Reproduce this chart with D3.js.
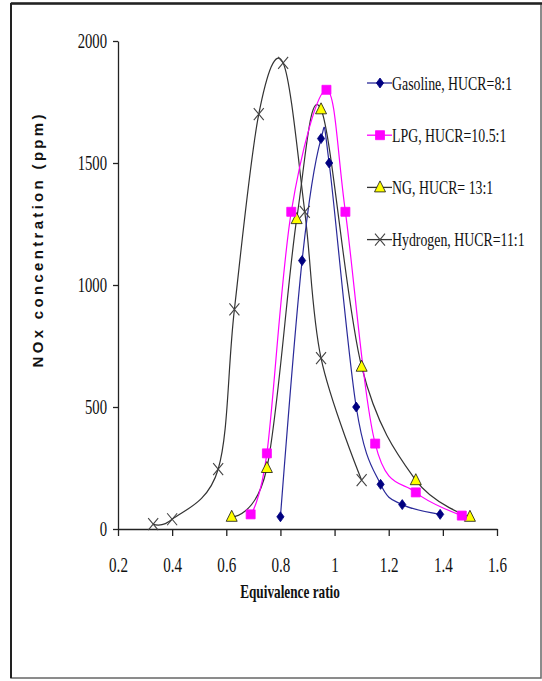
<!DOCTYPE html>
<html>
<head>
<meta charset="utf-8">
<script src="https://cdn.jsdelivr.net/npm/d3@7"></script>
<style>
  body { margin: 0; background: #fff; }
</style>
</head>
<body>
<div id="chart"></div>
<script>
// Equivalence ratio / NOx (ppm) for each fuel
const gasolineX = [0.80, 0.88, 0.95, 0.98, 1.08, 1.17, 1.25, 1.39];
const gasolineY = [50, 1100, 1600, 1500, 500, 183, 100, 60];
const lpgX = [0.69, 0.75, 0.84, 0.97, 1.04, 1.15, 1.30, 1.47];
const lpgY = [60, 310, 1300, 1800, 1300, 350, 150, 55];
const ngX = [0.62, 0.75, 0.86, 0.95, 1.10, 1.30, 1.50];
const ngY = [50, 250, 1270, 1720, 665, 200, 50];
const h2X = [0.33, 0.40, 0.57, 0.63, 0.72, 0.81, 0.89, 0.95, 1.10];
const h2Y = [20, 40, 245, 900, 1700, 1910, 1300, 700, 200];

const seriesNames = ["Gasoline, HUCR=8:1", "LPG, HUCR=10.5:1", "NG, HUCR= 13:1", "Hydrogen, HUCR=11:1"];
const xTicks = [0.2, 0.4, 0.6, 0.8, 1, 1.2, 1.4, 1.6];
const yTicks = [0, 500, 1000, 1500, 2000];

const width = 542, height = 681;
const margin = {top: 41, bottom: 152, left: 118, right: 45};
const serif = "'Liberation Serif', 'Times New Roman', serif";

const svg = d3.select("#chart")
  .append("svg")
  .attr("width", width)
  .attr("height", height);

// outer frame
svg.append("rect")
  .attr("x", 11).attr("y", 3.5)
  .attr("width", 530).attr("height", 674.5)
  .attr("fill", "#fff")
  .attr("stroke", "#666")
  .attr("stroke-width", 1.5);
svg.append("line")
  .attr("x1", 11).attr("x2", 542).attr("y1", 3.5).attr("y2", 3.5)
  .attr("stroke", "#222").attr("stroke-width", 2.5);
svg.append("line")
  .attr("x1", 11).attr("x2", 11).attr("y1", 3).attr("y2", 678)
  .attr("stroke", "#222").attr("stroke-width", 2);

const x = d3.scaleLinear().domain([0.2, 1.6]).range([margin.left, width - margin.right]);
const y = d3.scaleLinear().domain([0, 2000]).range([height - margin.bottom, margin.top]);

// horizontally squeezed serif text, like the original picture
function squeeze(sel, k) {
  sel.attr("transform", function() {
    const x0 = +(this.getAttribute("x") || 0);
    return `translate(${x0},0) scale(${k},1) translate(${-x0},0)`;
  });
}

const xAxis = svg.append("g")
  .attr("transform", `translate(0,${y(0)})`)
  .call(d3.axisBottom(x).tickValues(xTicks).tickSize(7).tickPadding(21).tickFormat(d3.format("")).tickSizeOuter(0));
xAxis.select(".domain").attr("stroke", "#222").attr("stroke-width", 1.3);
xAxis.selectAll(".tick line").attr("stroke", "#222").attr("stroke-width", 1.3);
xAxis.selectAll("text")
  .style("font-family", serif)
  .style("font-size", "21px")
  .attr("fill", "#111")
  .call(squeeze, 0.72);

const yAxis = svg.append("g")
  .attr("transform", `translate(${margin.left},0)`)
  .call(d3.axisLeft(y).tickValues(yTicks).tickSize(5).tickPadding(6).tickFormat(d3.format("d")).tickSizeOuter(0));
yAxis.select(".domain").attr("stroke", "#222").attr("stroke-width", 1.3);
yAxis.selectAll(".tick line").attr("stroke", "#222").attr("stroke-width", 1.3);
yAxis.selectAll("text")
  .style("font-family", serif)
  .style("font-size", "21px")
  .attr("fill", "#111")
  .call(squeeze, 0.7);

// series
const series = [
  {name: seriesNames[0], xs: gasolineX, ys: gasolineY, line: "#2a2a9a", marker: "diamond", fill: "#000080", stroke: "#000080"},
  {name: seriesNames[1], xs: lpgX, ys: lpgY, line: "#ff00ff", marker: "square", fill: "#ff00ff", stroke: "#ff00ff"},
  {name: seriesNames[2], xs: ngX, ys: ngY, line: "#333", marker: "triangle", fill: "#ffff00", stroke: "#111"},
  {name: seriesNames[3], xs: h2X, ys: h2Y, line: "#333", marker: "cross", fill: "none", stroke: "#444"}
];

const line = d3.line()
  .x(d => x(d[0]))
  .y(d => y(d[1]))
  .curve(d3.curveCardinal.tension(0));

function markerPath(type) {
  switch (type) {
    case "diamond": return "M0,-5L3.6,0L0,5L-3.6,0Z";
    case "square": return "M-4.5,-4.5H4.5V4.5H-4.5Z";
    case "triangle": return "M0,-6.5L5.5,4.5H-5.5Z";
    case "cross": return "M-5,-6L5,6M5,-6L-5,6";
  }
}

const plot = svg.append("g");
// draw hydrogen, NG, LPG, gasoline in Excel stacking order
series.slice().reverse().forEach(s => {
  const pts = s.xs.map((v, i) => [v, s.ys[i]]);
  plot.append("path")
    .attr("d", line(pts))
    .attr("fill", "none")
    .attr("stroke", s.line)
    .attr("stroke-width", 1.2);
});
series.slice().reverse().forEach(s => {
  const pts = s.xs.map((v, i) => [v, s.ys[i]]);
  plot.selectAll(null)
    .data(pts)
    .enter()
    .append("path")
    .attr("transform", d => `translate(${x(d[0])},${y(d[1])})`)
    .attr("d", markerPath(s.marker))
    .attr("fill", s.fill)
    .attr("stroke", s.stroke)
    .attr("stroke-width", s.marker === "cross" ? 1.1 : 0.8);
});

// legend
const legend = svg.append("g").attr("transform", "translate(367,83)");
series.forEach((s, i) => {
  const g = legend.append("g").attr("transform", `translate(0,${i * 52.2})`);
  g.append("line")
    .attr("x1", 0).attr("x2", 25)
    .attr("stroke", s.line).attr("stroke-width", 1.3);
  g.append("path")
    .attr("transform", "translate(13,0)")
    .attr("d", markerPath(s.marker))
    .attr("fill", s.fill)
    .attr("stroke", s.stroke)
    .attr("stroke-width", s.marker === "cross" ? 1.1 : 0.8);
  g.append("text")
    .attr("x", 25)
    .attr("dy", "0.35em")
    .style("font-family", serif)
    .style("font-size", "19.5px")
    .attr("fill", "#111")
    .text(s.name)
    .call(squeeze, 0.71);
});

// x-axis label
svg.append("text")
  .attr("x", 290)
  .attr("y", 598)
  .attr("text-anchor", "middle")
  .style("font-family", serif)
  .style("font-weight", "bold")
  .style("font-size", "19.5px")
  .attr("fill", "#111")
  .text("Equivalence ratio")
  .call(squeeze, 0.68);

// y-axis label
svg.append("text")
  .attr("transform", "rotate(-90)")
  .attr("x", -241)
  .attr("y", 43)
  .attr("text-anchor", "middle")
  .style("font-family", "'Liberation Sans', Arial, sans-serif")
  .style("font-weight", "bold")
  .style("font-size", "15px")
  .attr("fill", "#111")
  .attr("textLength", 253)
  .attr("lengthAdjust", "spacing")
  .text("NOx concentration (ppm)");
</script>
</body>
</html>
